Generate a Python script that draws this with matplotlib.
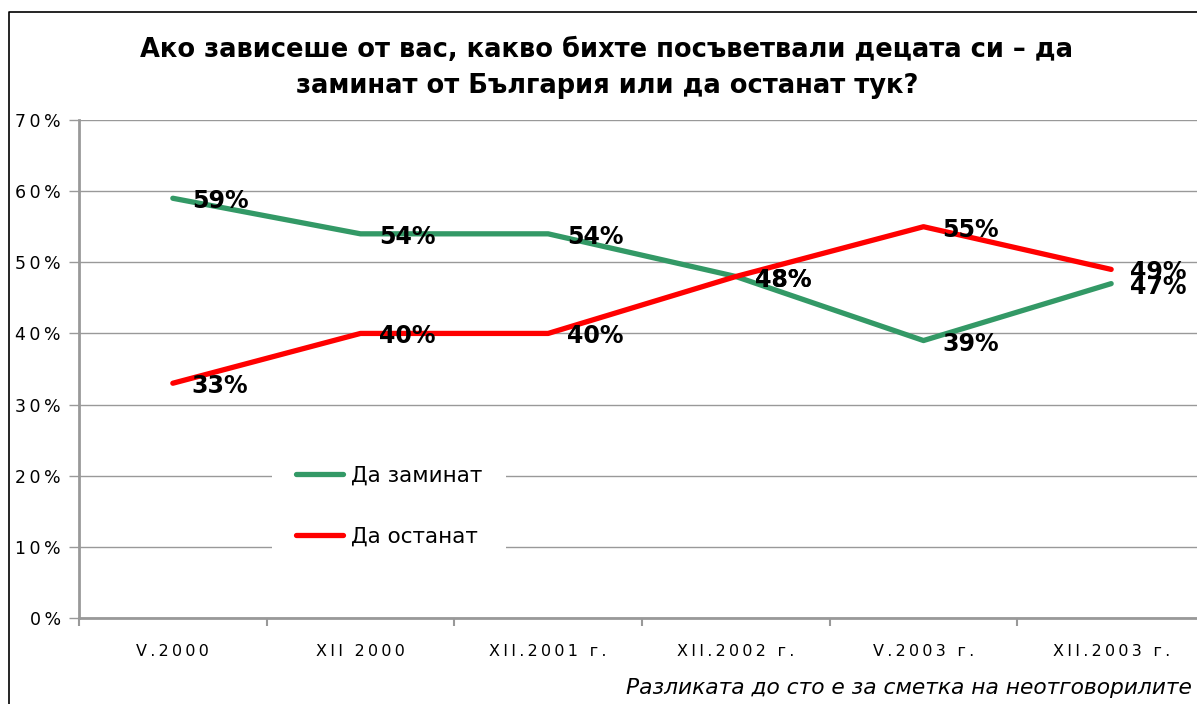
import matplotlib
matplotlib.use("Agg")
import matplotlib.pyplot as plt
from matplotlib.lines import Line2D
from matplotlib.ticker import FixedLocator

plt.rcParams['font.family'] = ['DejaVu Sans']

# data
categories = ['V.2000', 'XII 2000', 'XII.2001 г.', 'XII.2002 г.', 'V.2003 г.', 'XII.2003 г.']
leave = [59, 54, 54, 48, 39, 47]   # Да заминат
stay = [33, 40, 40, 48, 55, 49]    # Да останат
yticks = [0, 10, 20, 30, 40, 50, 60, 70]
title = 'Ако зависеше от вас, какво бихте посъветвали децата си – да\nзаминат от България или да останат тук?'
note = 'Разликата до сто е за сметка на неотговорилите'

GREEN = '#339966'
RED = '#ff0000'
GRID = '#999999'


def spaced(s):
    # imitate the wide letter spacing of the original
    return '\u2009'.join(s)


W, H = 1197, 704
fig = plt.figure(figsize=(W / 100, H / 100), dpi=100)
ax = fig.add_axes([79 / W, 1 - 618 / H, (1205 - 79) / W, (618 - 120) / H])

x = range(len(categories))
ax.plot(x, leave, color=GREEN, lw=3.8, solid_capstyle='round', label='Да заминат', zorder=3)
ax.plot(x, stay, color=RED, lw=3.8, solid_capstyle='round', label='Да останат', zorder=3)

for series in (leave, stay):
    for i, v in enumerate(series):
        ax.annotate(f'{v}%', (i, v), xytext=(19, -3), textcoords='offset pixels',
                    ha='left', va='center', fontsize=17, fontweight='bold',
                    color='black', zorder=5, annotation_clip=False)

ax.set_xlim(-0.5, len(categories) - 0.5)
ax.set_ylim(0, 70)
ax.set_yticks(yticks)
ax.set_yticklabels([spaced(f'{t}%') for t in yticks], fontsize=12.5)
ax.yaxis.grid(True, color=GRID, lw=1)
ax.set_axisbelow(True)

ax.set_xticks(list(x))
ax.set_xticklabels([spaced(c) for c in categories], fontsize=11.5)
ax.tick_params(axis='x', length=0, pad=19)
ax.xaxis.set_minor_locator(FixedLocator([i - 0.5 for i in range(len(categories) + 1)]))
ax.tick_params(axis='x', which='minor', length=6, color=GRID, width=1.5)
ax.tick_params(axis='y', length=7, color=GRID, width=1, pad=6)

for s in ('top', 'right'):
    ax.spines[s].set_visible(False)
for s in ('left', 'bottom'):
    ax.spines[s].set_color(GRID)
    ax.spines[s].set_linewidth(2)

leg = ax.legend(loc='upper left', bbox_to_anchor=(272 / W, 1 - 442 / H),
                bbox_transform=fig.transFigure, borderaxespad=0,
                frameon=True, fancybox=False, framealpha=1, edgecolor='none',
                fontsize=15.5, handlelength=2.2, handletextpad=0.35,
                labelspacing=1.9, borderpad=1.1)
leg.set_zorder(4)

fig.text(607 / W, 1 - 68 / H, title, ha='center', va='center', fontsize=18.5,
         fontweight='bold', linespacing=1.5)
fig.text(1192 / W, 1 - 688 / H, note, ha='right', va='center', fontsize=15.7,
         style='italic')

# outer frame of the chart area (only left and top show)
fig.add_artist(Line2D([9 / W, 9 / W, 1.01], [-0.01, 1 - 12 / H, 1 - 12 / H],
                      transform=fig.transFigure, color='black', lw=1.2))

fig.savefig('out.png', dpi=100)
